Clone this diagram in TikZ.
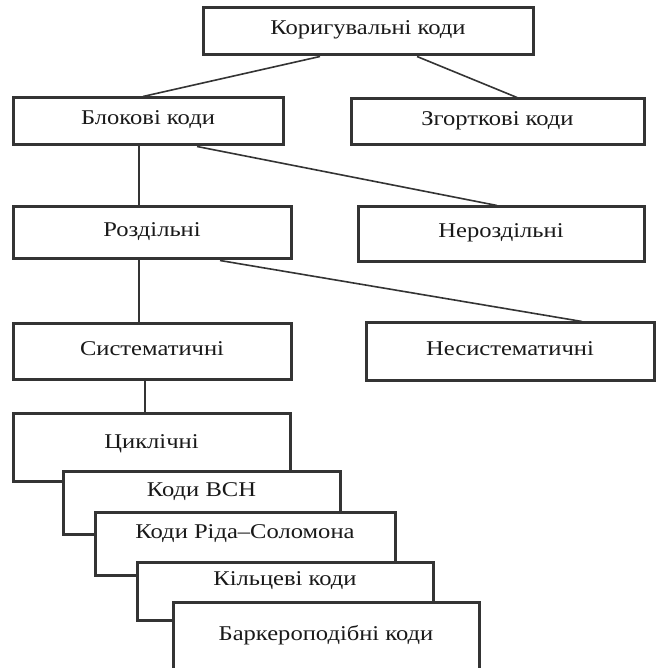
\documentclass[tikz,border=0pt]{standalone}
\usepackage{fontspec}
\setmainfont{Liberation Serif}[FakeStretch=1.17]

\begin{document}
\begin{tikzpicture}[x=1pt,y=1pt,
  box/.style={draw=drawColor,line width=3pt,fill=white,inner sep=0pt,text=textColor,
    font=\fontsize{21}{25}\selectfont,text height=0.7em,text depth=0pt},
  wire/.style={draw=drawColor,line width=1.6pt},
  lifted/.style={text depth=#1}]
\definecolor{drawColor}{RGB}{52,52,52}
\definecolor{textColor}{RGB}{25,25,25}
\path[use as bounding box,fill=white] (0,0) rectangle (657,668);
\begin{scope}
\path[clip] (0,0) rectangle (657,668);
% upper levels
\node[box,minimum width=330,minimum height=47] (kor) at (368,636.5) {Коригувальні коди};
\node[box,minimum width=270,minimum height=47] (blok) at (148,546.5) {Блокові коди};
\node[box,minimum width=293,minimum height=46] (zgort) at (497.5,546) {Згорткові коди};
\node[box,minimum width=278,minimum height=52] (rozd) at (152,435) {Роздільні};
\node[box,minimum width=286,minimum height=55] (nerozd) at (501,433.5) {Нероздільні};
\node[box,minimum width=278,minimum height=56] (syst) at (152,316) {Систематичні};
\node[box,minimum width=288,minimum height=58] (nesyst) at (510,316) {Несистематичні};

% stacked cyclic codes
\node[box,lifted=6.7pt,minimum width=277,minimum height=68] (cykl) at (151.5,220) {Циклічні};
\node[box,lifted=21.7pt,minimum width=277,minimum height=63] (bch) at (201.5,164.5) {Коди BCH};
\node[box,lifted=19.7pt,minimum width=300,minimum height=63] (rs) at (245,123.5) {Коди Ріда–Соломона};
\node[box,lifted=20.7pt,minimum width=296,minimum height=58] (kil) at (285,76) {Кільцеві коди};
\node[box,lifted=12.7pt,minimum width=306,minimum height=80] (bark) at (326,25) {Баркероподібні коди};

\draw[wire] ([xshift=-48]kor.south) -- ([xshift=-5]blok.north);
\draw[wire] ([xshift=49]kor.south) -- ([xshift=19.5]zgort.north);
\draw[wire] ([xshift=-9]blok.south) -- ([xshift=-13]rozd.north);
\draw[wire] ([xshift=49]blok.south) -- ([xshift=-4]nerozd.north);
\draw[wire] ([xshift=-13]rozd.south) -- ([xshift=-13]syst.north);
\draw[wire] ([xshift=68]rozd.south) -- ([xshift=72]nesyst.north);
\draw[wire] ([xshift=-7]syst.south) -- ([xshift=-6.5]cykl.north);
\end{scope}
\end{tikzpicture}
\end{document}
